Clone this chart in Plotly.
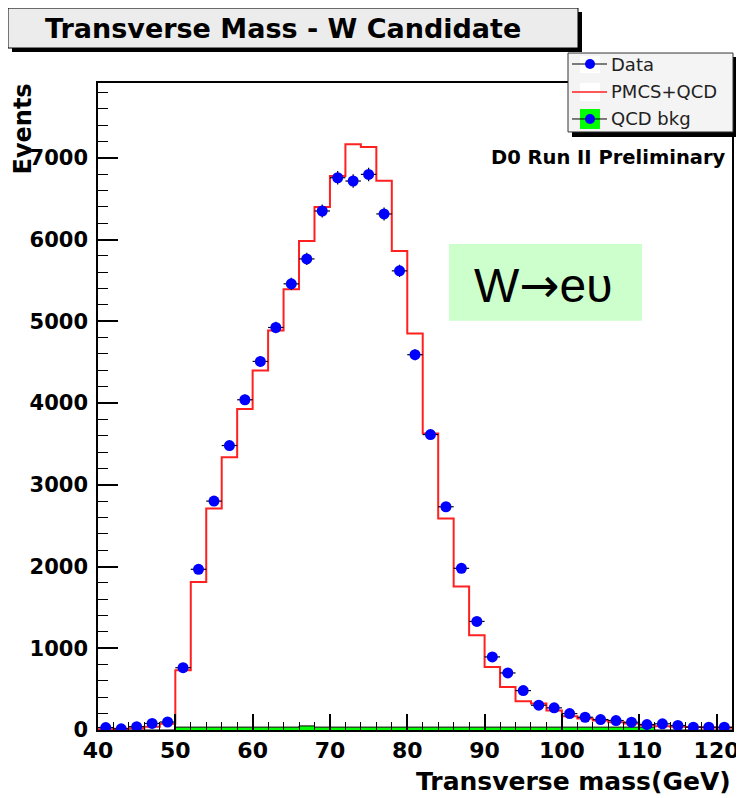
import plotly.graph_objects as go

# ---------------- data ----------------
bin_edges = list(range(40, 124, 2))  # 40 ... 122, 2 GeV bins

data_counts = [30, 15, 41, 80, 98, 762, 1966, 2800, 3480, 4040,
               4509, 4924, 5458, 5763, 6349, 6756, 6716, 6797, 6313, 5617,
               4591, 3614, 2731, 1978, 1328, 894, 698, 482, 303, 271,
               201, 156, 128, 116, 95, 67, 76, 55, 34, 34, 34]

pmcs_qcd = [8, 15, 20, 40, 75, 730, 1811, 2711, 3337, 3928,
            4399, 4888, 5393, 5983, 6398, 6777, 7167, 7131, 6720, 5861,
            4851, 3626, 2588, 1754, 1160, 772, 527, 352, 324, 238,
            169, 140, 116, 95, 79, 59, 46, 41, 37, 30, 26]

qcd_bkg = [0, 0, 0, 0, 0, 35, 35, 35, 35, 35,
           35, 35, 35, 50, 35, 35, 35, 35, 35, 35,
           35, 35, 35, 35, 35, 35, 35, 35, 35, 35,
           35, 35, 35, 35, 35, 35, 0, 0, 0, 0, 0]

x_ticks = [40, 50, 60, 70, 80, 90, 100, 110, 120]
y_ticks = [0, 1000, 2000, 3000, 4000, 5000, 6000, 7000]

title_text = "Transverse Mass - W Candidate"
x_title = "Transverse mass(GeV)"
y_title = "Events"
legend_labels = ["Data", "PMCS+QCD", "QCD bkg"]
label_d0 = "D0 Run II Preliminary"
label_w = "W<span style='font-family:DejaVu Sans'>\u2192</span>e\u03c5"

# ---------------- derived ----------------
centers = [(bin_edges[i] + bin_edges[i + 1]) / 2 for i in range(len(data_counts))]
half_w = [(bin_edges[i + 1] - bin_edges[i]) / 2 for i in range(len(data_counts))]
err_y = [c ** 0.5 for c in data_counts]
step_x = bin_edges
step_red = pmcs_qcd + [pmcs_qcd[-1]]
step_qcd = qcd_bkg + [qcd_bkg[-1]]

# page has an 8px body margin: the figure sits at (8, 8) in the 744x798 window
OFF = 8
W, H = 744 - OFF, 798 - OFF
PLOT_L, PLOT_R, PLOT_T, PLOT_B = 98, 732, 83, 730.5   # reference pixel frame
L = PLOT_L - OFF
T = PLOT_T - OFF
R = W - (PLOT_R - OFF)
B = H - (PLOT_B - OFF)
PW, PH = W - L - R, H - T - B


def px(x):
    return (x - OFF - L) / PW


def py(y):
    return (PLOT_B - y) / PH


fig = go.Figure()

fig.add_trace(go.Scatter(
    x=step_x, y=step_qcd, mode="lines", line=dict(shape="hv", color="black", width=1),
    fill="tozeroy", fillcolor="#00ff00", showlegend=False, hoverinfo="skip"))

fig.add_trace(go.Scatter(
    x=step_x, y=step_red, mode="lines", line=dict(shape="hv", color="#ff2020", width=2),
    showlegend=False, hoverinfo="skip"))

fig.add_trace(go.Scatter(
    x=centers, y=data_counts, mode="markers",
    marker=dict(color="#0000ff", size=11, line=dict(width=0)),
    error_y=dict(type="data", array=err_y, color="black", thickness=1.2, width=0),
    error_x=dict(type="data", array=half_w, color="black", thickness=1.2, width=0),
    showlegend=False))

shapes = []
annotations = []

BOLD = "DejaVu Sans"

# title pave
shapes.append(dict(type="rect", xref="paper", yref="paper", x0=px(12), x1=px(582), y0=py(52), y1=py(12),
                   fillcolor="black", line=dict(width=0), layer="above"))
shapes.append(dict(type="rect", xref="paper", yref="paper", x0=px(8), x1=px(578), y0=py(48), y1=py(8),
                   fillcolor="#ececec", line=dict(color="black", width=1), layer="above"))
annotations.append(dict(text=title_text, xref="paper", yref="paper", x=px(283), y=py(28),
                        xanchor="center", yanchor="middle", showarrow=False,
                        font=dict(family=BOLD, size=27, color="black", weight="bold")))

# legend pave
shapes.append(dict(type="rect", xref="paper", yref="paper", x0=px(572), x1=px(738), y0=py(137), y1=py(57),
                   fillcolor="black", line=dict(width=0), layer="above"))
shapes.append(dict(type="rect", xref="paper", yref="paper", x0=px(568), x1=px(733), y0=py(132), y1=py(53),
                   fillcolor="#f4f4f4", line=dict(color="#333333", width=1), layer="above"))
rows = [64, 92, 119]
# Data
shapes.append(dict(type="rect", xref="paper", yref="paper", x0=px(580), x1=px(600), y0=py(73), y1=py(56),
                   fillcolor="white", line=dict(width=0), layer="above"))
shapes.append(dict(type="line", xref="paper", yref="paper", x0=px(572), x1=px(607), y0=py(rows[0]), y1=py(rows[0]),
                   line=dict(color="black", width=1), layer="above"))
shapes.append(dict(type="circle", xref="paper", yref="paper", x0=px(585), x1=px(595), y0=py(rows[0] + 5), y1=py(rows[0] - 5),
                   fillcolor="#0000ff", line=dict(width=0), layer="above"))
# PMCS+QCD
shapes.append(dict(type="rect", xref="paper", yref="paper", x0=px(580), x1=px(600), y0=py(101), y1=py(83),
                   fillcolor="white", line=dict(width=0), layer="above"))
shapes.append(dict(type="line", xref="paper", yref="paper", x0=px(572), x1=px(607), y0=py(rows[1]), y1=py(rows[1]),
                   line=dict(color="#ff2020", width=1.5), layer="above"))
# QCD bkg
shapes.append(dict(type="rect", xref="paper", yref="paper", x0=px(580), x1=px(600), y0=py(129), y1=py(109),
                   fillcolor="#00ff00", line=dict(width=0), layer="above"))
shapes.append(dict(type="line", xref="paper", yref="paper", x0=px(572), x1=px(607), y0=py(rows[2]), y1=py(rows[2]),
                   line=dict(color="black", width=1), layer="above"))
shapes.append(dict(type="circle", xref="paper", yref="paper", x0=px(585), x1=px(595), y0=py(rows[2] + 5), y1=py(rows[2] - 5),
                   fillcolor="#0000ff", line=dict(width=0), layer="above"))
for lab, ry in zip(legend_labels, rows):
    annotations.append(dict(text=lab, xref="paper", yref="paper", x=px(609), y=py(ry),
                            xanchor="left", yanchor="middle", showarrow=False,
                            font=dict(family="DejaVu Sans", size=18, color="#222222")))

# W -> e nu box
shapes.append(dict(type="rect", xref="paper", yref="paper", x0=px(449), x1=px(642), y0=py(321), y1=py(244),
                   fillcolor="#ccffcc", line=dict(width=0), layer="below"))
annotations.append(dict(text=label_w, xref="paper", yref="paper", x=px(543), y=py(285),
                        xanchor="center", yanchor="middle", showarrow=False,
                        font=dict(family="Liberation Sans", size=48, color="black")))

# D0 label
annotations.append(dict(text=label_d0, xref="paper", yref="paper", x=px(728), y=py(158),
                        xanchor="right", yanchor="middle", showarrow=False,
                        font=dict(family=BOLD, size=19.5, color="black", weight="bold")))

# axis titles
annotations.append(dict(text=x_title, xref="paper", yref="paper", x=px(733), y=py(782),
                        xanchor="right", yanchor="middle", showarrow=False,
                        font=dict(family=BOLD, size=25, color="black", weight="bold")))
annotations.append(dict(text=y_title, xref="paper", yref="paper", x=px(22), y=py(83),
                        xanchor="center", yanchor="top", showarrow=False, textangle=-90, borderpad=0,
                        font=dict(family=BOLD, size=24, color="black", weight="bold")))

fig.update_layout(
    width=W, height=H,
    margin=dict(l=L, r=R, t=T, b=B, pad=0, autoexpand=False),
    paper_bgcolor="white", plot_bgcolor="white",
    shapes=shapes, annotations=annotations,
    showlegend=False,
)

fig.update_xaxes(
    range=[40, 122], tickmode="array", tickvals=x_ticks, ticktext=[str(v) for v in x_ticks],
    ticks="inside", ticklen=16, tickwidth=1.5, tickcolor="black",
    minor=dict(ticks="inside", ticklen=8, tickwidth=1.2, tickcolor="black", dtick=2, showgrid=False),
    showline=True, linecolor="black", linewidth=1.5, mirror=True,
    showgrid=False, zeroline=False, ticklabelstandoff=0, automargin=False,
    tickfont=dict(family=BOLD, size=22, color="black", weight="bold"),
)
fig.update_yaxes(
    range=[0, 7915], tickmode="array", tickvals=y_ticks, ticktext=[str(v) for v in y_ticks],
    ticks="inside", ticklen=20, tickwidth=1.5, tickcolor="black",
    minor=dict(ticks="inside", ticklen=10, tickwidth=1.2, tickcolor="black", dtick=200, showgrid=False),
    showline=True, linecolor="black", linewidth=1.5, mirror=True,
    showgrid=False, zeroline=False, ticklabelstandoff=4, automargin=False,
    tickfont=dict(family=BOLD, size=21, color="black", weight="bold"),
)

fig.write_html("out.html")
